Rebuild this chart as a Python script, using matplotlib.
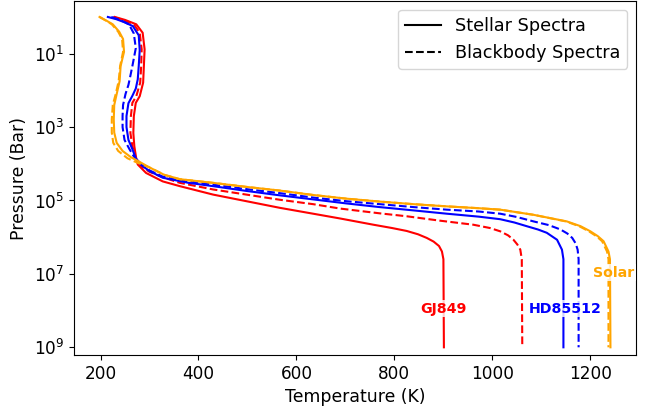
import numpy as np
import matplotlib
matplotlib.use("Agg")
import matplotlib.pyplot as plt
from matplotlib.lines import Line2D
from matplotlib.ticker import NullLocator

# P-T profiles: temperature (K) against log10 pressure (bar)
gj849_stellar_T = [229, 250, 273, 286, 290, 288.5, 287, 280, 272, 268, 267, 269, 273,
                   276, 293, 327, 362, 430, 498, 566, 634, 689, 757, 795, 825, 848, 866, 880, 891,
                   897, 900, 901]
gj849_stellar_logp = [0.0, 0.08, 0.2, 0.43, 0.88, 1.34, 1.79, 2.16, 2.34, 2.7, 3.16, 3.52, 3.86,
                      4.02, 4.25, 4.48, 4.61, 4.84, 5.02, 5.2, 5.36, 5.49, 5.66, 5.75, 5.83, 5.92, 6.02,
                      6.12, 6.24, 6.39, 6.6, 9.0]

gj849_bb_T = [226, 246, 268, 280, 284, 283, 281, 273, 265, 262, 261, 265, 272,
              278, 300, 330, 362, 430, 498, 566, 634, 689, 770, 825, 893, 961, 995, 1016,
              1032, 1043, 1051, 1057, 1060, 1061]
gj849_bb_logp = [0.0, 0.08, 0.2, 0.43, 0.88, 1.34, 1.79, 2.16, 2.34, 2.7, 3.16, 3.52, 3.86,
                 4.02, 4.22, 4.38, 4.52, 4.7, 4.84, 4.98, 5.1, 5.22, 5.35, 5.43, 5.55, 5.66, 5.75, 5.84,
                 5.95, 6.07, 6.2, 6.34, 6.6, 9.0]

hd85512_stellar_T = [215, 232, 250, 266, 278, 280, 278, 276, 272, 265, 257, 253, 253, 257, 265, 272,
                     285, 300, 327, 380, 430, 498, 566, 634, 702, 770, 839, 907, 972, 1016, 1045,
                     1070, 1093, 1111, 1132, 1142, 1145, 1145]
hd85512_stellar_logp = [0.0, 0.06, 0.15, 0.25, 0.5, 0.9, 1.34, 1.7, 1.95, 2.15, 2.35, 2.7, 3.0, 3.35, 3.6, 3.85,
                        4.05, 4.2, 4.38, 4.52, 4.61, 4.74, 4.86, 4.97, 5.08, 5.18, 5.27, 5.36, 5.44, 5.51, 5.6,
                        5.7, 5.79, 5.88, 6.07, 6.34, 6.6, 9.0]

hd85512_bb_T = [222, 240, 258, 268, 272, 265, 261, 257, 251, 246, 245, 245, 249, 259, 268,
                280, 300, 327, 380, 430, 498, 566, 634, 702, 770, 839, 907, 972, 1016, 1050, 1084,
                1115, 1139, 1153, 1163, 1170, 1174, 1176, 1176]
hd85512_bb_logp = [0.0, 0.08, 0.2, 0.45, 0.85, 1.34, 1.6, 1.85, 2.1, 2.4, 2.7, 3.0, 3.35, 3.6, 3.8,
                   4.0, 4.18, 4.35, 4.48, 4.57, 4.69, 4.8, 4.92, 5.02, 5.1, 5.18, 5.25, 5.3, 5.36, 5.45, 5.57,
                   5.67, 5.79, 5.9, 6.02, 6.17, 6.34, 6.6, 9.0]

solar_stellar_T = [198, 212, 225, 238, 246, 248, 241, 239, 233, 228, 227, 228, 233, 245, 262,
                   280, 300, 330, 362, 430, 498, 566, 634, 702, 770, 839, 907, 972, 1016, 1084,
                   1152, 1180, 1200, 1215, 1227, 1237, 1240, 1241]
solar_stellar_logp = [0.0, 0.1, 0.2, 0.4, 0.6, 0.95, 1.34, 1.75, 2.1, 2.4, 2.79, 3.15, 3.43, 3.65, 3.82,
                      3.95, 4.1, 4.3, 4.42, 4.52, 4.63, 4.73, 4.85, 4.95, 5.03, 5.1, 5.16, 5.21, 5.25, 5.39,
                      5.57, 5.7, 5.84, 5.97, 6.11, 6.39, 6.6, 9.0]

solar_bb_T = [198, 211, 223, 236, 244, 246, 240, 237, 231, 225, 223, 223, 226, 236, 255,
              275, 300, 330, 362, 430, 498, 566, 634, 702, 770, 839, 907, 972, 1016, 1084,
              1150, 1177, 1197, 1212, 1224, 1234, 1237, 1237]
solar_bb_logp = [0.0, 0.1, 0.2, 0.4, 0.6, 0.95, 1.34, 1.75, 2.1, 2.4, 2.79, 3.15, 3.43, 3.65, 3.85,
                 3.97, 4.1, 4.3, 4.42, 4.52, 4.63, 4.73, 4.85, 4.95, 5.03, 5.1, 5.16, 5.21, 5.25, 5.39,
                 5.57, 5.7, 5.84, 5.97, 6.11, 6.39, 6.6, 9.0]

star_names = ["GJ849", "HD85512", "Solar"]
star_colors = ["red", "blue", "orange"]
# label anchor for each star: (temperature, log10 pressure)
label_T = [901, 1148, 1248]
label_logp = [7.95, 7.95, 6.97]

profiles = [
    (gj849_stellar_T, gj849_stellar_logp, gj849_bb_T, gj849_bb_logp),
    (hd85512_stellar_T, hd85512_stellar_logp, hd85512_bb_T, hd85512_bb_logp),
    (solar_stellar_T, solar_stellar_logp, solar_bb_T, solar_bb_logp),
]

fig = plt.figure(figsize=(6.56, 4.16), dpi=100)
ax = fig.add_axes([0.1128, 0.1466, 0.8567, 0.851])

for (st, sp, bt, bp), color in zip(profiles, star_colors):
    ax.plot(st, 10 ** np.array(sp), color=color, linestyle="-", lw=1.5)
    ax.plot(bt, 10 ** np.array(bp), color=color, linestyle="--", lw=1.5)

for name, color, tx, ty in zip(star_names, star_colors, label_T, label_logp):
    ax.text(tx, 10 ** ty, name, color=color, fontsize=10.2, fontweight="bold",
            ha="center", va="center",
            bbox=dict(facecolor="white", alpha=0.8, edgecolor="none", pad=1))

ax.set_yscale("log")
ax.set_ylim(10 ** 9.21, 10 ** -0.435)
ax.set_yticks([1e1, 1e3, 1e5, 1e7, 1e9])
ax.yaxis.set_minor_locator(NullLocator())
ax.tick_params(labelsize=12.2)

ax.set_xlabel("Temperature (K)", fontsize=12.4)
ax.set_ylabel("Pressure (Bar)", fontsize=12.4)

handles = [Line2D([], [], color="black", linestyle="-", lw=1.5),
           Line2D([], [], color="black", linestyle="--", lw=1.5)]
ax.legend(handles, ["Stellar Spectra", "Blackbody Spectra"], loc="upper right", fontsize=12.7)

fig.savefig("out.png", dpi=100)
